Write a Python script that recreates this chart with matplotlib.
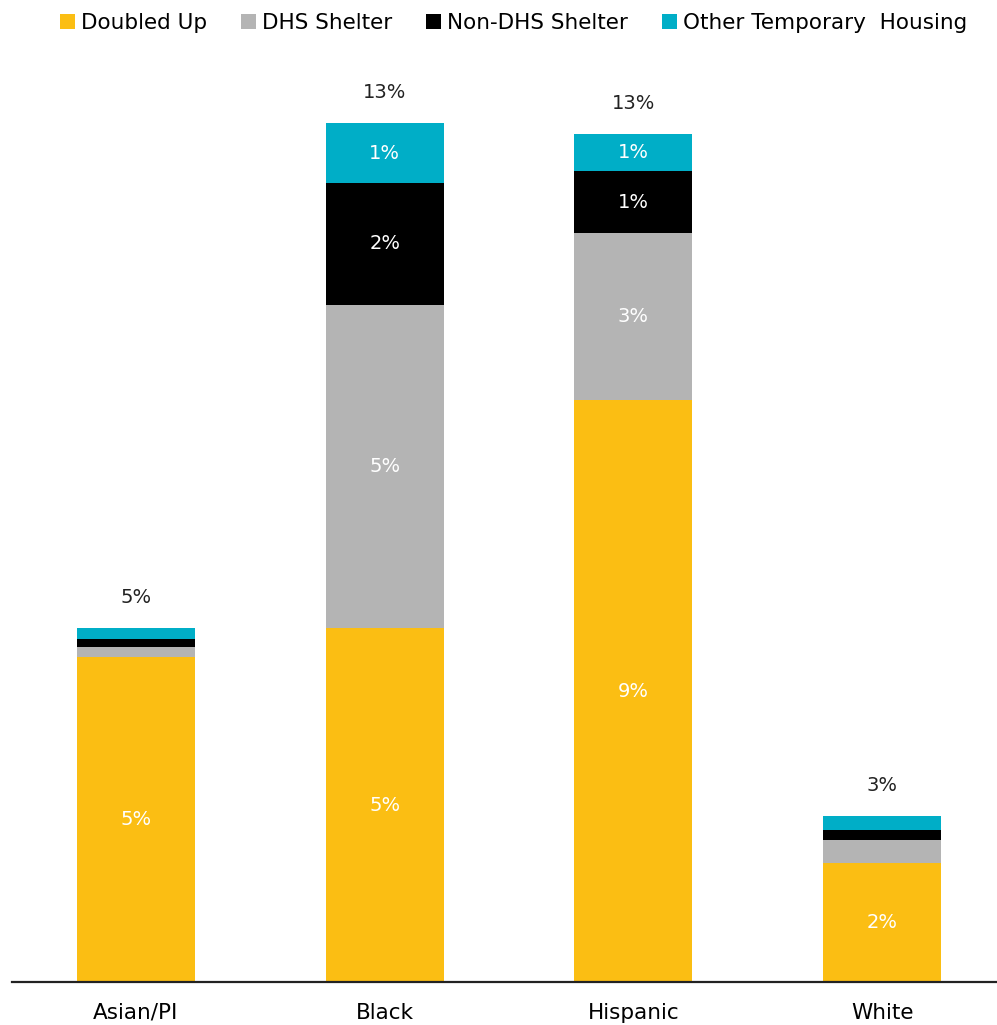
import matplotlib
matplotlib.use("Agg")
import matplotlib.pyplot as plt
import numpy as np

plt.rcParams['font.family'] = ['DejaVu Sans']

# data (percent of students)
groups = ['Asian/PI', 'Black', 'Hispanic', 'White']
series = ['Doubled Up', 'DHS Shelter', 'Non-DHS Shelter', 'Other Temporary  Housing']
doubled_up = [5.04, 5.48, 9.02, 1.84]
dhs_shelter = [0.15, 5.02, 2.59, 0.36]
non_dhs_shelter = [0.12, 1.89, 0.96, 0.15]
other_temp = [0.18, 0.92, 0.57, 0.22]
colors = ['#FBBE13', '#B4B4B4', '#000000', '#00AEC7']

values = [doubled_up, dhs_shelter, non_dhs_shelter, other_temp]

fig = plt.figure(figsize=(9.97, 10.25), dpi=100)
ax = fig.add_axes([0.012, 0.042, 0.988, 0.881])

x = np.arange(len(groups))
bottom = np.zeros(len(groups))
for name, vals, col in zip(series, values, colors):
    vals = np.array(vals)
    ax.bar(x, vals, width=0.475, bottom=bottom, color=col, label=name)
    for xi, b, v in zip(x, bottom, vals):
        if v >= 0.5:
            ax.text(xi, b + v / 2, f"{round(v):.0f}%", ha='center', va='center',
                    color='white', fontsize=14)
    bottom += vals

for xi, tot in zip(x, bottom):
    ax.annotate(f"{round(tot):.0f}%", (xi, tot), xytext=(0, 22), textcoords='offset points',
                ha='center', va='center', fontsize=14, color='#222222')

ax.set_xlim(-0.4986, 3.462)
ax.set_ylim(0, 14)
ax.set_xticks(x)
ax.set_xticklabels(groups, fontsize=15.5)
ax.tick_params(axis='x', length=0, pad=15)
ax.set_yticks([])
for s in ['top', 'right', 'left']:
    ax.spines[s].set_visible(False)
ax.spines['bottom'].set_linewidth(1.6)
ax.spines['bottom'].set_color('#222222')

fig.legend(loc='upper center', bbox_to_anchor=(0.515, 1.006), ncol=4, frameon=False,
           fontsize=15.5, handlelength=0.7, handleheight=0.7, handletextpad=0.25,
           columnspacing=1.6)

fig.savefig('out.png', dpi=100)
